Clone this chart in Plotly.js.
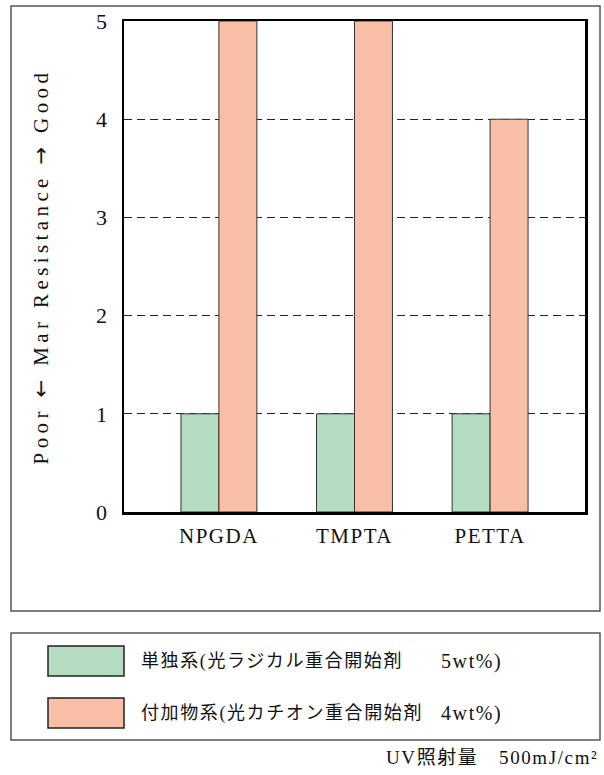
<!DOCTYPE html>
<html>
<head>
<meta charset="utf-8">
<script src="https://cdn.plot.ly/plotly-3.0.1.min.js"></script>
<style>
  html, body { margin: 0; padding: 0; background: #fff; }
  #chart { width: 604px; height: 775px; }
  .ytitle { letter-spacing: 4.4px; }
  .xtick text { letter-spacing: 1.5px; }
  .annotation-text { letter-spacing: 1.6px; }
</style>
</head>
<body>
<div id="chart"></div>
<script>
// ---- data ----
const categories = ["NPGDA", "TMPTA", "PETTA"];
const seriesNames = ["単独系(光ラジカル重合開始剤", "付加物系(光カチオン重合開始剤"];
const seriesAmounts = ["5wt%)", "4wt%)"];
const radicalValues = [1, 1, 1];
const cationValues = [5, 5, 4];
const yTicks = [0, 1, 2, 3, 4, 5];
const yTitleParts = ["Poor", "←", "Mar Resistance", "→", "Good"];
const footnote = "UV照射量　500mJ/cm²";

// ---- styling / layout constants ----
const W = 604, H = 775;
const M = { l: 124, r: 19, t: 21, b: 263 };
const plotW = W - M.l - M.r, plotH = H - M.t - M.b;
const px = x => (x - M.l) / plotW;          // pixel x -> paper x
const py = y => (H - M.b - y) / plotH;      // pixel y -> paper y
const colors = ["#b3dcc1", "#f8bea6"];
const serif = "Liberation Serif, Times New Roman, serif";
const mixed = "Liberation Serif, Noto Sans CJK JP, serif";
const arrowSpan = a => '<span style="font-family:DejaVu Sans">' + a + '</span>';
const yTitle = yTitleParts.map((p, i) => (i % 2 ? arrowSpan(p) : p)).join(" ");

const traces = [radicalValues, cationValues].map((vals, i) => ({
  type: "bar",
  x: categories,
  y: vals,
  name: seriesNames[i],
  marker: { color: colors[i], line: { color: "#333", width: 1 } },
  hoverinfo: "skip"
}));

const shapes = [
  { type: "rect", xref: "paper", yref: "paper", x0: px(11), x1: px(600), y0: py(611), y1: py(6),
    line: { color: "#555", width: 1.5 }, fillcolor: "rgba(0,0,0,0)", layer: "below" },
  { type: "rect", xref: "paper", yref: "paper", x0: px(11), x1: px(600), y0: py(740), y1: py(633),
    line: { color: "#555", width: 1.5 }, fillcolor: "rgba(0,0,0,0)" }
];
const annotations = [];
const rowY = [661, 713];
seriesNames.forEach((n, i) => {
  shapes.push({ type: "rect", xref: "paper", yref: "paper",
    x0: px(48), x1: px(124), y0: py(rowY[i] + 15), y1: py(rowY[i] - 15),
    line: { color: "#222", width: 1.5 }, fillcolor: colors[i] });
  annotations.push({ xref: "paper", yref: "paper", x: px(139), y: py(rowY[i]),
    xanchor: "left", yanchor: "middle", showarrow: false, text: n,
    font: { family: mixed, size: 18, color: "#111" } });
  annotations.push({ xref: "paper", yref: "paper", x: px(439), y: py(rowY[i]),
    xanchor: "left", yanchor: "middle", showarrow: false, text: seriesAmounts[i],
    font: { family: mixed, size: 20, color: "#111" } });
});
annotations.push({ xref: "paper", yref: "paper", x: px(600), y: py(757),
  xanchor: "right", yanchor: "middle", showarrow: false, text: footnote,
  font: { family: mixed, size: 19, color: "#111" } });

const layout = {
  width: W, height: H,
  margin: M,
  paper_bgcolor: "#fff", plot_bgcolor: "#fff",
  showlegend: false,
  barmode: "group", bargap: 0.44, bargroupgap: 0,
  font: { family: serif, color: "#111" },
  xaxis: {
    type: "category", range: [-0.7, 2.7], fixedrange: true,
    showline: true, linecolor: "#000", linewidth: 2.5, mirror: true,
    ticks: "", showgrid: false, ticklabelstandoff: 3,
    tickfont: { family: serif, size: 21, color: "#111" }
  },
  yaxis: {
    range: [0, 5], tickvals: yTicks, ticktext: yTicks.map(String), fixedrange: true,
    showline: true, linecolor: "#000", linewidth: 2.5, mirror: true,
    ticks: "", zeroline: false, ticklabelstandoff: 10,
    showgrid: true, gridcolor: "#222", gridwidth: 1, griddash: "8px,5px",
    tickfont: { family: serif, size: 22, color: "#111" },
    title: { text: yTitle, standoff: 42, font: { family: serif, size: 21, color: "#111" } }
  },
  shapes: shapes,
  annotations: annotations
};

Plotly.newPlot("chart", traces, layout, { staticPlot: true, displayModeBar: false });
</script>
</body>
</html>
